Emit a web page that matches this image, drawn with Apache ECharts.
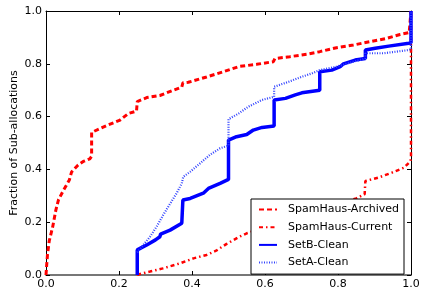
<!DOCTYPE html>
<html>
<head>
<meta charset="utf-8">
<script src="https://cdn.jsdelivr.net/npm/echarts@6/dist/echarts.min.js"></script>
<style>
  html, body { margin: 0; padding: 0; background: #fff; }
  #chart { width: 424px; height: 292px; }
</style>
</head>
<body>
<div id="chart"></div>
<script>
// CDF curves, [x, y] pairs
var archived = [[0,0],[0.002,0.04],[0.004,0.076],[0.009,0.13],[0.018,0.18],[0.027,0.246],[0.034,0.284],[0.046,0.316],[0.064,0.36],[0.07,0.39],[0.088,0.417],[0.102,0.43],[0.12,0.44],[0.125,0.45],[0.125,0.54],[0.166,0.566],[0.203,0.587],[0.226,0.612],[0.248,0.621],[0.25,0.657],[0.276,0.672],[0.312,0.68],[0.349,0.7],[0.372,0.712],[0.375,0.728],[0.39,0.73],[0.44,0.75],[0.486,0.77],[0.53,0.79],[0.577,0.798],[0.623,0.808],[0.627,0.82],[0.668,0.827],[0.714,0.836],[0.75,0.846],[0.796,0.861],[0.842,0.871],[0.888,0.884],[0.933,0.896],[0.97,0.911],[0.995,0.918],[1,0.92],[1,1]];
var current = [[0.25,0],[0.258,0.004],[0.285,0.013],[0.32,0.025],[0.367,0.044],[0.404,0.063],[0.44,0.076],[0.466,0.092],[0.495,0.118],[0.53,0.145],[0.55,0.158],[0.6,0.18],[0.65,0.2],[0.7,0.225],[0.75,0.25],[0.8,0.27],[0.85,0.29],[0.873,0.306],[0.875,0.356],[0.911,0.369],[0.948,0.388],[0.98,0.406],[0.998,0.43],[1,0.44],[1,1]];
var setB = [[0.25,0],[0.25,0.095],[0.276,0.114],[0.3,0.133],[0.312,0.145],[0.314,0.155],[0.34,0.17],[0.372,0.196],[0.375,0.196],[0.375,0.284],[0.395,0.29],[0.431,0.31],[0.445,0.328],[0.477,0.347],[0.5,0.362],[0.5,0.511],[0.522,0.524],[0.55,0.532],[0.568,0.549],[0.592,0.559],[0.625,0.564],[0.625,0.663],[0.656,0.669],[0.683,0.682],[0.701,0.69],[0.75,0.7],[0.75,0.77],[0.783,0.776],[0.806,0.789],[0.815,0.8],[0.847,0.814],[0.875,0.82],[0.875,0.852],[0.902,0.859],[0.939,0.867],[0.994,0.878],[1,0.88],[1,1]];
var setA = [[0.25,0.085],[0.285,0.145],[0.303,0.183],[0.321,0.227],[0.34,0.27],[0.358,0.31],[0.372,0.347],[0.376,0.372],[0.395,0.391],[0.422,0.423],[0.449,0.455],[0.477,0.48],[0.5,0.49],[0.5,0.59],[0.528,0.612],[0.555,0.638],[0.592,0.663],[0.625,0.675],[0.625,0.713],[0.665,0.732],[0.701,0.751],[0.729,0.764],[0.75,0.776],[0.796,0.789],[0.842,0.808],[0.875,0.82],[0.875,0.84],[0.924,0.84],[0.96,0.846],[0.993,0.852],[1,0.855],[1,1]];

var seriesNames = ['SpamHaus-Archived', 'SpamHaus-Current', 'SetB-Clean', 'SetA-Clean'];

var font = 'DejaVu Sans';
var chart = echarts.init(document.getElementById('chart'));

function axis(pos, showLabel, lineColor, lineWidth) {
  return {
    type: 'value', min: 0, max: 1, interval: 0.2, position: pos,
    axisLine: { show: true, onZero: false, lineStyle: { color: lineColor, width: lineWidth } },
    axisTick: { show: true, inside: true, length: 4, lineStyle: { color: '#000' } },
    axisLabel: {
      show: showLabel, fontFamily: font, fontSize: 11, color: '#000', margin: 4,
      formatter: function (v) { return v.toFixed(1); }
    },
    splitLine: { show: false }
  };
}

var xBottom = axis('bottom', true, '#777', 2);
var xTop = axis('top', false, '#000', 1);
var yLeft = axis('left', true, '#000', 1);
var yRight = axis('right', false, '#000', 1);
yLeft.name = 'Fraction of Sub-allocations';
yLeft.nameLocation = 'middle';
yLeft.nameGap = 26;
yLeft.nameMoveOverlap = false;
yLeft.nameTextStyle = { fontFamily: font, fontSize: 11, color: '#000' };

function line(name, data, color, width, type) {
  return {
    name: name, type: 'line', data: data, symbol: 'none',
    xAxisIndex: 0, yAxisIndex: 0,
    lineStyle: { color: color, width: width, type: type },
    itemStyle: { color: color },
    animation: false
  };
}

chart.setOption({
  animation: false,
  grid: { left: 46, right: 13, top: 11, bottom: 17, containLabel: false, outerBoundsMode: 'none' },
  xAxis: [xBottom, xTop],
  yAxis: [yLeft, yRight],
  legend: {
    data: seriesNames,
    orient: 'vertical',
    left: 251, top: 199,
    padding: [5, 5, 6, 7],
    itemGap: 6.7,
    itemWidth: 18, itemHeight: 10,
    itemStyle: { opacity: 0 },
    backgroundColor: '#fff',
    borderColor: '#000', borderWidth: 1, borderRadius: 0,
    textStyle: { fontFamily: font, fontSize: 11, color: '#000', padding: [0, 0, 0, 6] }
  },
  series: [
    line(seriesNames[0], archived, '#ff0000', 3, [5, 3]),
    line(seriesNames[1], current, '#ff0000', 2.5, [4, 3, 1.5, 3]),
    line(seriesNames[2], setB, '#0000ff', 3.5, 'solid'),
    line(seriesNames[3], setA, '#3344ff', 2.2, [1, 1.5])
  ]
});
</script>
</body>
</html>
